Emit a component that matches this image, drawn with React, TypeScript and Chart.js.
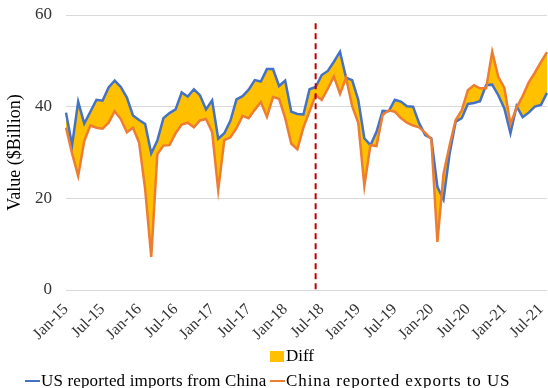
import React, { useEffect, useRef } from 'react';
import { Chart, registerables } from 'chart.js';

Chart.register(...registerables);

// ---- Data (monthly, Jan-15 .. Aug-21), $ billion ----
const monthNames = ['Jan', 'Feb', 'Mar', 'Apr', 'May', 'Jun', 'Jul', 'Aug', 'Sep', 'Oct', 'Nov', 'Dec'];
const years = ['15', '16', '17', '18', '19', '20', '21'];

const usImports = [
  38.7, 31.6, 41.1, 36.3, 38.9, 41.5, 41.3, 44.2, 45.7, 44.3, 42.0, 38.1,
  37.1, 36.2, 29.8, 32.6, 37.5, 38.6, 39.4, 43.1, 42.2, 43.8, 42.5, 39.4,
  41.4, 33.0, 34.2, 36.9, 41.6, 42.3, 43.7, 45.8, 45.5, 48.2, 48.2, 44.5,
  45.7, 38.9, 38.4, 38.3, 43.8, 44.3, 46.9, 47.8, 49.8, 52.0, 46.3, 45.8,
  41.5, 33.1, 31.6, 34.5, 39.1, 39.0, 41.5, 41.1, 40.1, 40.0, 36.4, 33.8,
  33.1, 22.5, 19.7, 29.7, 36.7, 37.5, 40.6, 40.8, 41.2, 44.7, 44.8, 42.5,
  39.6, 34.2, 40.1, 37.7, 38.7, 40.0, 40.4, 43.0,
];

const chinaExports = [
  35.4, 29.8, 24.9, 32.5, 35.9, 35.4, 35.2, 36.5, 39.0, 37.3, 34.4, 35.4,
  32.2, 22.0, 7.2, 29.6, 31.5, 31.6, 34.2, 36.1, 36.5, 35.5, 37.0, 37.3,
  34.5, 21.8, 32.7, 33.3, 35.3, 38.0, 37.5, 39.3, 41.0, 37.8, 42.1, 41.7,
  37.5, 31.9, 30.7, 35.5, 39.0, 42.5, 41.5, 43.9, 46.6, 42.8, 46.3, 40.1,
  36.5, 22.7, 31.6, 31.4, 38.2, 39.2, 38.9, 37.5, 36.5, 35.9, 35.5, 34.3,
  32.9, 10.5, 25.3, 31.5, 37.1, 39.2, 43.6, 44.7, 44.0, 44.0, 52.0, 46.5,
  44.1, 36.2, 39.8, 42.3, 45.3, 47.4, 49.7, 51.9,
];

const categories: string[] = [];
years.forEach((y) => monthNames.forEach((m) => categories.push(`${m}-${y}`)));
categories.length = usImports.length;

const tickLabels = [
  'Jan-15', 'Jul-15', 'Jan-16', 'Jul-16', 'Jan-17', 'Jul-17', 'Jan-18',
  'Jul-18', 'Jan-19', 'Jul-19', 'Jan-20', 'Jul-20', 'Jan-21', 'Jul-21',
];

const yTicks = [0, 20, 40, 60];
const markerCategory = 'Jun-18';
const markerTopValue = 58.2;

const usLabel = 'US reported imports from China';
const chinaLabel = 'China reported exports to US';
const diffLabel = 'Diff';
const yTitle = 'Value ($Billion)';

const BLUE = '#4472C4';
const ORANGE = '#ED7D31';
const YELLOW = '#FFC000';
const MARKER = '#C00000';
const FONT = '"Liberation Serif", "Times New Roman", serif';

const markerPlugin = {
  id: 'tradeWarMarker',
  afterDatasetsDraw(chart: any) {
    const { ctx, scales } = chart;
    const idx = categories.indexOf(markerCategory);
    const x = scales.x.getPixelForValue(idx);
    const yTop = scales.y.getPixelForValue(markerTopValue);
    const yBot = scales.y.getPixelForValue(0);
    ctx.save();
    ctx.strokeStyle = MARKER;
    ctx.lineWidth = 2;
    ctx.setLineDash([6, 4]);
    ctx.beginPath();
    ctx.moveTo(x, yTop);
    ctx.lineTo(x, yBot);
    ctx.stroke();
    ctx.restore();
  },
};

export default function App() {
  const canvasRef = useRef<HTMLCanvasElement | null>(null);

  useEffect(() => {
    if (!canvasRef.current) return;
    const chart = new Chart(canvasRef.current, {
      type: 'line',
      data: {
        labels: categories,
        datasets: [
          {
            label: usLabel,
            data: usImports,
            borderColor: BLUE,
            backgroundColor: BLUE,
            borderWidth: 2.5,
            pointRadius: 0,
            tension: 0,
            fill: false,
            order: 2,
          },
          {
            label: chinaLabel,
            data: chinaExports,
            borderColor: ORANGE,
            backgroundColor: ORANGE,
            borderWidth: 2.5,
            pointRadius: 0,
            tension: 0,
            fill: { target: 0, above: YELLOW, below: YELLOW },
            order: 1,
          },
        ],
      },
      options: {
        responsive: false,
        animation: false,
        events: [],
        layout: { padding: { top: 15, right: 1, left: 0, bottom: 0 } },
        plugins: {
          legend: { display: false },
          tooltip: { enabled: false },
          filler: { drawTime: 'beforeDatasetsDraw' },
        } as any,
        scales: {
          x: {
            type: 'category',
            offset: false,
            grid: { display: false },
            border: { display: false },
            ticks: {
              autoSkip: false,
              maxRotation: 45,
              minRotation: 45,
              padding: 2,
              color: '#333',
              font: { family: FONT, size: 16 },
              callback: (_v: any, i: number) => (tickLabels.includes(categories[i]) ? categories[i] : ''),
            },
            afterFit: (s: any) => {
              s.height = 98;
              s.paddingTop = 0;
              s.paddingBottom = 0;
              s.paddingLeft = 0;
              s.paddingRight = 0;
            },
          },
          y: {
            min: 0,
            max: 60,
            grid: { color: '#d9d9d9', lineWidth: 1, drawTicks: false },
            border: { display: false },
            afterBuildTicks: (s: any) => {
              s.ticks = yTicks.map((v) => ({ value: v }));
            },
            ticks: {
              padding: 14,
              color: '#333',
              font: { family: FONT, size: 17 },
            },
            title: {
              display: true,
              text: yTitle,
              color: '#000',
              font: { family: FONT, size: 18 },
              padding: { top: 4, bottom: 0 },
            },
            afterFit: (s: any) => {
              s.width = 66;
              s.paddingTop = 0;
              s.paddingBottom = 0;
              s.paddingLeft = 0;
              s.paddingRight = 0;
            },
          },
        },
      },
      plugins: [markerPlugin],
    });
    return () => chart.destroy();
  }, []);

  const legendText: React.CSSProperties = {
    position: 'absolute',
    display: 'flex',
    alignItems: 'center',
    whiteSpace: 'nowrap',
    fontFamily: FONT,
    fontSize: 17,
    lineHeight: '20px',
    color: '#000',
  };

  return (
    <div style={{ position: 'absolute', left: 0, top: 0, width: 548, height: 388, background: '#fff' }}>
      <canvas ref={canvasRef} width={548} height={388} style={{ display: 'block' }} />
      <div style={{ ...legendText, left: 270, top: 346 }}>
        <span style={{ display: 'inline-block', width: 14, height: 11, background: YELLOW, marginRight: 2 }} />
        <span>{diffLabel}</span>
      </div>
      <div style={{ ...legendText, left: 25, top: 371 }}>
        <span style={{ display: 'inline-block', width: 15, height: 2.5, background: BLUE, marginRight: 1 }} />
        <span style={{ letterSpacing: '0.15px' }}>{usLabel}</span>
      </div>
      <div style={{ ...legendText, left: 270, top: 371 }}>
        <span style={{ display: 'inline-block', width: 15, height: 2.5, background: ORANGE, marginRight: 1 }} />
        <span style={{ letterSpacing: '0.9px' }}>{chinaLabel}</span>
      </div>
    </div>
  );
}
